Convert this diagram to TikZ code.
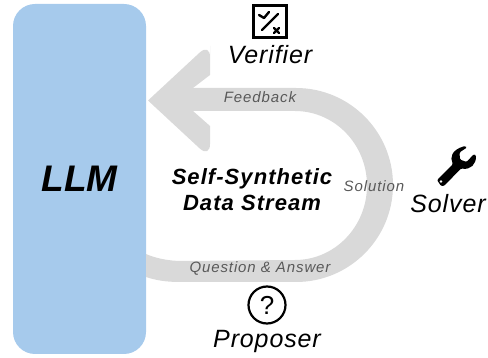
\documentclass[tikz,border=0pt]{standalone}
\usepackage{fontspec}
\setmainfont{Liberation Sans}
\definecolor{llmblue}{HTML}{A6CAEC}
\definecolor{flow}{HTML}{D9D9D9}
\definecolor{lab}{HTML}{595959}
\tikzset{
  x=1pt,y=-1pt,
  rolelabel/.style={font=\fontsize{25}{27}\selectfont\itshape\addfontfeature{LetterSpace=3.5},text=black,inner sep=0pt,anchor=base},
  flowlabel/.style={font=\fontsize{15}{17}\selectfont\itshape\addfontfeature{LetterSpace=6},text=lab,inner sep=0pt,anchor=base},
  icon/.style={draw=black,line width=2.6pt,line cap=round,line join=round}
}
\begin{document}
\begin{tikzpicture}
\useasboundingbox (0,0) rectangle (488,358);
% LLM block
\node[fill=llmblue,rounded corners=22pt,minimum width=133pt,minimum height=350pt,inner sep=0pt,
  font=\fontsize{37}{40}\selectfont\bfseries\itshape] (llm) at (79.5,179) {LLM};
% flow band
\fill[flow] (190,88) -- (296,88)
  .. controls (349.6,88) and (393,131.5) .. (393,185)
  .. controls (393,238.5) and (349.6,282) .. (296,282)
  -- (180,282) .. controls (165,282) and (155,280) .. (146,277)
  -- (146,254) .. controls (155,258) and (168,261) .. (182,261)
  -- (295,260)
  .. controls (334.8,260) and (367,226.5) .. (367,185.5)
  .. controls (367,144.5) and (334.8,111) .. (295,111)
  -- (190,111) -- cycle;
% arrow head
\fill[flow] (148,100.5) [rounded corners=14pt] -- (210,43) -- (210,60) [sharp corners] -- (210,75) -- (193,88) -- (193,111) -- (210,126) -- (210,141) [rounded corners=14pt] -- (210,158) -- (148,100.5);
% centre text
\node[font=\fontsize{22}{26}\selectfont\bfseries\itshape\addfontfeature{LetterSpace=4.8},align=center,inner sep=0pt] (stream) at (252,190) {Self-Synthetic\\Data Stream};
% flow labels
\node[flowlabel] (fb) at (260,103) {Feedback};
\node[flowlabel] (sol) at (374,192) {Solution};
\node[flowlabel] (qa) at (260,273) {Question \& Answer};
% verifier
\node[rolelabel] (verifier) at (270,64) {Verifier};
\draw[icon,line cap=butt,line join=miter,line width=3pt] (253.5,5.5) rectangle (286.5,37.5);
\coordinate (v1) at (278,14); \coordinate (v2) at (262,30);
\draw[icon,line width=2.4pt] (v1) -- (v2);
\draw[icon,line width=2.4pt] (259,15) -- (264,18) -- (269,12);
\draw[icon,line width=2.4pt] (274,28) -- (279,33) (279,28) -- (274,33);
% solver
\node[rolelabel] (solver) at (448,213) {Solver};
\fill[black,rounded corners=1.2pt] (437,180) -- (453,164)
  .. controls (450,158) and (451,150) .. (465,146)
  -- (467,147.5) -- (459.5,152.5) -- (460,159.5) -- (466.5,162) -- (474,154) -- (476,155.5)
  .. controls (476,164) and (471,170) .. (461,168.5)
  -- (444,186) -- (441,186) -- cycle;
\fill[white] (441,181.5) circle[radius=1.4];
% proposer
\node[rolelabel] (proposer) at (267,348) {Proposer};
\node[draw=black,line width=2.2pt,circle,minimum size=37pt,inner sep=0pt,font=\fontsize{26}{28}\selectfont] (q) at (267,305) {?};
\end{tikzpicture}
\end{document}
